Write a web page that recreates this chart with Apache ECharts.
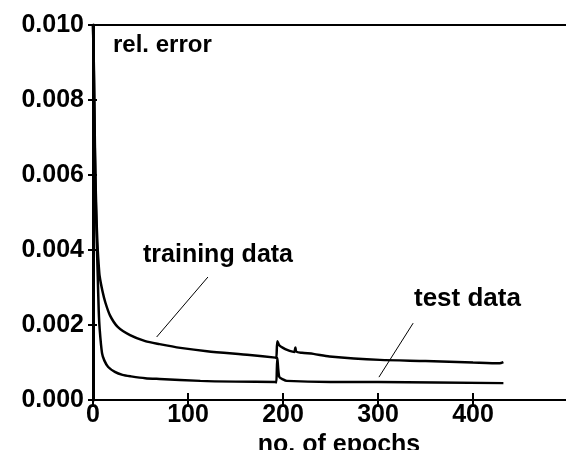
<!DOCTYPE html>
<html>
<head>
<meta charset="utf-8">
<script src="https://cdn.jsdelivr.net/npm/echarts@6/dist/echarts.min.js"></script>
<style>html,body{margin:0;padding:0;background:#fff}#c{width:566px;height:450px}</style>
</head>
<body>
<div id="c"></div>
<script>
// x tick labels and y tick labels
const xTicks = [0, 100, 200, 300, 400];
const yTicks = ['0.000', '0.002', '0.004', '0.006', '0.008', '0.010'];

// upper curve (epoch, rel. error)
const trainEpochs = [0, 1, 2, 3, 4, 5, 6, 7, 10, 13, 18, 26, 39, 55, 70, 92, 120, 165, 192, 193, 194, 196, 200, 205, 210, 212, 213, 214, 220, 232, 249, 302, 350, 400, 428, 432];
const trainError  = [0.0100, 0.0088, 0.0068, 0.0055, 0.0046, 0.0040, 0.0036, 0.0033, 0.0029, 0.0026, 0.00225, 0.00195, 0.00173, 0.00157, 0.00149, 0.00139, 0.00130, 0.00120, 0.00113, 0.00112, 0.00157, 0.00146, 0.00139, 0.00133, 0.00129, 0.00128, 0.00140, 0.00129, 0.00126, 0.00123, 0.00116, 0.00107, 0.00104, 0.00100, 0.00098, 0.00101];

// lower curve
const testEpochs = [0, 1, 2, 3, 4, 5, 6, 7, 9.5, 12, 16, 23, 31, 40, 55, 70, 113, 150, 192, 193, 194, 196, 200, 204, 250, 300, 432];
const testError  = [0.0100, 0.0085, 0.0065, 0.0052, 0.0042, 0.0033, 0.0024, 0.0019, 0.00125, 0.00105, 0.00088, 0.00075, 0.00067, 0.00063, 0.00058, 0.00056, 0.00051, 0.00049, 0.00048, 0.00047, 0.00112, 0.00062, 0.00055, 0.00051, 0.00048, 0.00048, 0.00045];

// annotation pointer lines [epoch, value]
const trainPointer = [[67, 0.00168], [121, 0.00328]];
const testPointer  = [[301, 0.00061], [337, 0.00205]];

const pair = (xs, ys) => xs.map((x, i) => [x, ys[i]]);
const FONT = 'Liberation Sans, Arial, sans-serif';

const chart = echarts.init(document.getElementById('c'), null, {renderer: 'canvas'});
chart.setOption({
  animation: false,
  grid: {left: 93, top: 25, width: 475, height: 375, containLabel: false, outerBoundsMode: 'none'},
  xAxis: [
    {
      type: 'value', min: 0, max: 500, interval: 100,
      axisLine: {show: true, lineStyle: {color: '#000', width: 2}},
      axisTick: {show: true, length: 7, lineStyle: {color: '#000', width: 2}},
      axisLabel: {
        margin: 3, color: '#000', fontFamily: FONT, fontSize: 25, fontWeight: 'bold',
        formatter: v => (xTicks.indexOf(v) >= 0 ? String(v) : '')
      },
      splitLine: {show: false},
      name: 'no. of epochs', nameLocation: 'middle', nameGap: 24,
      nameTextStyle: {color: '#000', fontFamily: FONT, fontSize: 25, fontWeight: 'bold', padding: [0, 0, 0, 17]}
    },
    {
      type: 'value', min: 0, max: 500, interval: 100, position: 'bottom',
      axisLine: {show: false},
      axisTick: {show: true, inside: true, length: 7, lineStyle: {color: '#000', width: 2}},
      axisLabel: {show: false}, splitLine: {show: false}
    },
    {
      type: 'value', min: 0, max: 500, position: 'top',
      axisLine: {show: true, lineStyle: {color: '#000', width: 2}},
      axisTick: {show: false}, axisLabel: {show: false}, splitLine: {show: false}
    }
  ],
  yAxis: [
    {
      type: 'value', min: 0, max: 0.01, interval: 0.002,
      axisLine: {show: true, lineStyle: {color: '#000', width: 3}},
      axisTick: {show: true, length: 5, lineStyle: {color: '#000', width: 2}},
      axisLabel: {
        margin: 9, color: '#000', fontFamily: FONT, fontSize: 25, fontWeight: 'bold',
        formatter: v => yTicks[Math.round(v / 0.002)]
      },
      splitLine: {show: false}
    },
    {
      type: 'value', min: 0, max: 0.01, interval: 0.002, position: 'left',
      axisLine: {show: false},
      axisTick: {show: true, inside: true, length: 4, lineStyle: {color: '#000', width: 2}},
      axisLabel: {show: false}, splitLine: {show: false}
    }
  ],
  series: [
    {
      name: 'training data', type: 'line', data: pair(trainEpochs, trainError),
      showSymbol: false, symbol: 'none', smooth: 0.25,
      lineStyle: {color: '#000', width: 2.5},
      markLine: {
        silent: true, symbol: 'none', label: {show: false},
        lineStyle: {color: '#000', width: 1, type: 'solid'},
        data: [[{coord: trainPointer[0]}, {coord: trainPointer[1]}]]
      }
    },
    {
      name: 'test data', type: 'line', data: pair(testEpochs, testError),
      showSymbol: false, symbol: 'none', smooth: 0.25,
      lineStyle: {color: '#000', width: 2.5},
      markLine: {
        silent: true, symbol: 'none', label: {show: false},
        lineStyle: {color: '#000', width: 1, type: 'solid'},
        data: [[{coord: testPointer[0]}, {coord: testPointer[1]}]]
      }
    }
  ],
  graphic: [
    {type: 'text', left: 113, top: 33, style: {text: 'rel. error', fill: '#000', font: 'bold 24px ' + FONT}},
    {type: 'text', left: 143, top: 243, style: {text: 'training data', fill: '#000', font: 'bold 25px ' + FONT}},
    {type: 'text', left: 414, top: 286, style: {text: 'test data', fill: '#000', font: 'bold 26px ' + FONT}}
  ]
});
</script>
</body>
</html>
